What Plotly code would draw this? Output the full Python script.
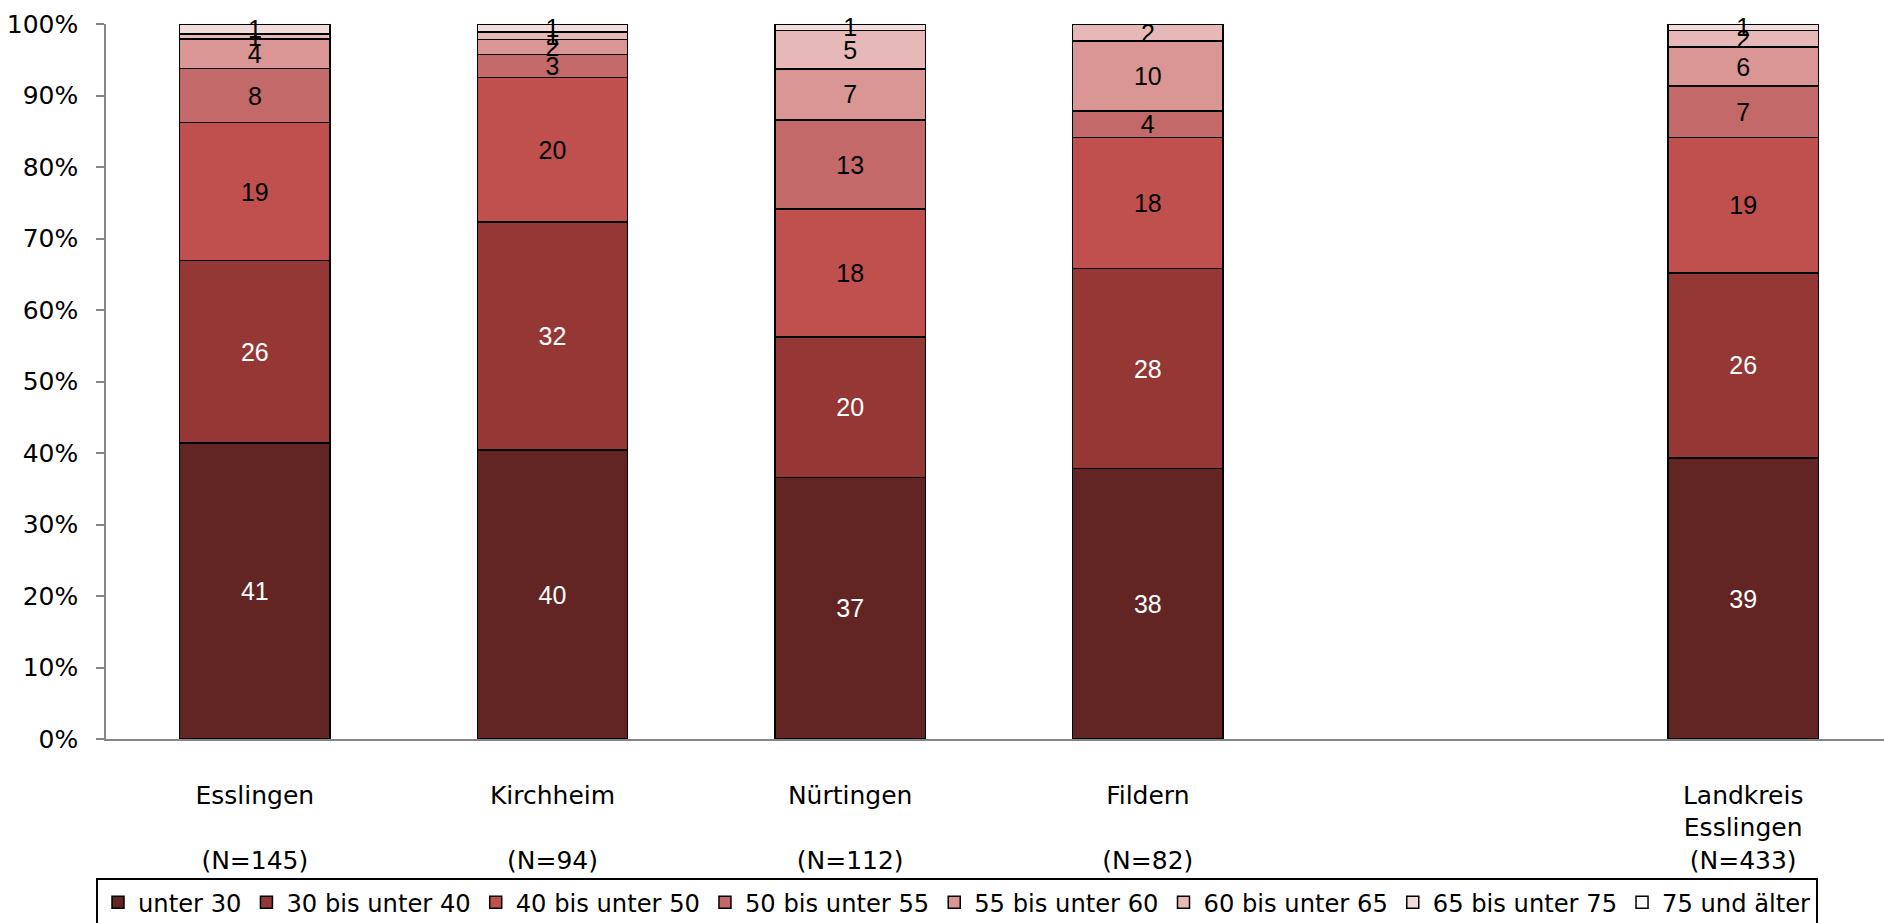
import math
import plotly.graph_objects as go

# --- data -------------------------------------------------------------
categories = ["Esslingen<br> <br>(N=145)", "Kirchheim<br> <br>(N=94)", "Nürtingen<br> <br>(N=112)",
              "Fildern<br> <br>(N=82)", "", "Landkreis<br>Esslingen<br>(N=433)"]
cat_pos = [0, 1, 2, 3, 4, 5]
age_groups = ["unter 30", "30 bis unter 40", "40 bis unter 50", "50 bis unter 55",
              "55 bis unter 60", "60 bis unter 65", "65 bis unter 75", "75 und älter"]

# percentages per age group, one value per category (None = empty slot)
unter_30   = [41.4, 40.4, 36.6, 37.8, None, 39.3]
b30_40     = [25.5, 31.9, 19.6, 28.0, None, 25.9]
b40_50     = [19.3, 20.2, 17.9, 18.3, None, 18.9]
b50_55     = [7.6, 3.2, 12.5, 3.7, None, 7.2]
b55_60     = [4.1, 2.1, 7.1, 9.8, None, 5.5]
b60_65     = [0.7, 1.1, 5.4, 2.4, None, 2.3]
b65_75     = [1.4, 1.1, 0.9, 0.0, None, 0.9]
ab_75      = [0.0, 0.0, 0.0, 0.0, None, 0.0]
series = [unter_30, b30_40, b40_50, b50_55, b55_60, b60_65, b65_75, ab_75]

colors = ["#632523", "#953735", "#C0504D", "#C4696A", "#DA9694", "#E6B9B8", "#F2DCDB", "#FFFFFF"]
text_colors = ["white", "white", "black", "black", "black", "black", "black", "black"]

FONT_LAB = "Liberation Sans, Arial, sans-serif"
FONT_AX = "DejaVu Sans, Liberation Sans, sans-serif"

FIG_W = 1892

def label(v):
    if v is None or v <= 0:
        return ""
    return str(int(math.floor(v + 0.5)))

fig = go.Figure()
for name, vals, col, tcol in zip(age_groups, series, colors, text_colors):
    fig.add_trace(go.Bar(
        name=name, x=cat_pos, y=vals,
        marker=dict(color=col, line=dict(color="black", width=1.5)),
        width=0.505,
        text=[label(v) for v in vals],
        textposition="inside", insidetextanchor="middle", textangle=0,
        textfont=dict(family=FONT_LAB, size=25, color=tcol),
        constraintext="none", cliponaxis=False,
        hoverinfo="skip",
    ))

fig.update_layout(
    barmode="stack",
    width=FIG_W, height=923,
    margin=dict(l=106, r=0, t=24, b=184, autoexpand=False),
    paper_bgcolor="white", plot_bgcolor="white",
    font=dict(family=FONT_AX, size=25, color="black"),
    uniformtext=dict(minsize=25, mode="show"),
    showlegend=True,
    legend=dict(
        orientation="h", xref="container", yref="container",
        x=96 / FIG_W, y=1 - 878 / 923, xanchor="left", yanchor="top",
        bordercolor="black", borderwidth=2,
        font=dict(family=FONT_AX, size=24.2, color="black"),
        traceorder="normal", itemclick=False, itemdoubleclick=False,
    ),
    xaxis=dict(
        range=[-0.5, 5.5], tickmode="array",
        tickvals=[0, 1, 2, 3, 5],
        ticktext=[categories[i] for i in [0, 1, 2, 3, 5]],
        showline=True, linecolor="#868686", linewidth=1.5,
        showgrid=False, zeroline=False, ticks="",
        ticklabelstandoff=33, automargin=False,
        tickfont=dict(family=FONT_AX, size=25, color="black"),
    ),
    yaxis=dict(
        range=[0, 100], tickmode="array",
        tickvals=list(range(0, 101, 10)),
        ticktext=[f"{v}%" for v in range(0, 101, 10)],
        showline=True, linecolor="#868686", linewidth=1.5,
        ticks="outside", ticklen=8, tickcolor="#868686", tickwidth=1.5,
        showgrid=False, zeroline=False, automargin=False,
        ticklabelstandoff=13,
        tickfont=dict(family=FONT_AX, size=25, color="black"),
    ),
)

fig.write_html("out.html", config={"displayModeBar": False},
               post_script="document.body.style.margin='0';document.body.style.overflow='hidden';")
